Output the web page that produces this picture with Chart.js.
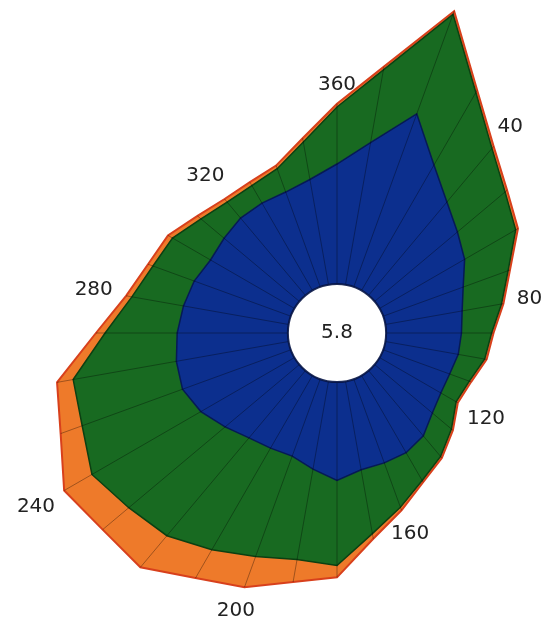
<!DOCTYPE html>
<html><head><meta charset="utf-8">
<script src="https://cdn.jsdelivr.net/npm/chart.js@4.4.1/dist/chart.umd.min.js"></script>
<style>
html,body{margin:0;padding:0;background:#fff;overflow:hidden;width:553px;height:619px}
#wrap{position:absolute;left:0;top:0;width:674px;height:666px}
</style>
</head><body><div id="wrap"><canvas id="c"></canvas></div>
<script>
// Wind directions (degrees, clockwise from north), 10° sectors
const directions = [360,10,20,30,40,50,60,70,80,90,100,110,120,130,140,150,160,170,
                    180,190,200,210,220,230,240,250,260,270,280,290,300,310,320,330,340,350];
// Direction tick labels shown round the rose
const labeledDirections = [360,40,80,120,160,200,240,280,320];
// Frequency (%) per direction for each speed class
const speedClass1 = [1.83,2.20,2.81,2.21,1.86,1.65,1.50,1.30,1.19,1.15,1.13,1.08,1.08,1.15,1.30,1.36,1.36,1.37,
                     1.50,1.36,1.25,1.28,1.34,1.48,1.65,1.76,1.74,1.69,1.63,1.57,1.48,1.50,1.54,1.54,1.54,1.63];
const speedClass2 = [0.87,1.13,1.62,1.28,1.07,0.95,0.90,0.73,0.61,0.46,0.41,0.32,0.27,0.38,0.41,0.49,0.72,0.99,
                     1.30,1.40,1.63,1.79,1.95,1.92,1.92,1.63,1.60,1.10,0.80,0.67,0.67,0.46,0.32,0.31,0.38,0.58];
const speedClass3 = [0.05,0.05,0.05,0.04,0.04,0.04,0.04,0.03,0.03,0.03,0.03,0.03,0.03,0.03,0.03,0.03,0.05,0.08,
                     0.18,0.35,0.50,0.50,0.63,0.52,0.49,0.35,0.25,0.14,0.09,0.08,0.08,0.07,0.06,0.06,0.05,0.06];
const calmPercent = 5.8;

// cumulative rings
const cum1 = speedClass1.slice();
const cum2 = cum1.map((v,i)=>v+speedClass2[i]);
const cum3 = cum2.map((v,i)=>v+speedClass3[i]);

const overlay = {
  id:'overlay',
  afterDatasetsDraw(chart){
    const s = chart.scales.r, ctx = chart.ctx;
    ctx.save();
    ctx.lineWidth = 1;
    ctx.strokeStyle = 'rgba(0,0,0,0.33)';
    directions.forEach((d,i)=>{
      const a = s.getPointPositionForValue(i,0), b = s.getPointPositionForValue(i,cum3[i]);
      ctx.beginPath(); ctx.moveTo(a.x,a.y); ctx.lineTo(b.x,b.y); ctx.stroke();
    });
    const r0 = s.getDistanceFromCenterForValue(0);
    ctx.beginPath(); ctx.arc(s.xCenter,s.yCenter,r0,0,Math.PI*2);
    ctx.fillStyle = '#fff'; ctx.fill();
    ctx.strokeStyle = 'rgba(5,20,70,0.9)'; ctx.lineWidth = 2; ctx.stroke();
    ctx.font = '20px "DejaVu Sans"';
    ctx.fillStyle = '#222'; ctx.textAlign = 'center'; ctx.textBaseline = 'middle';
    ctx.fillText(calmPercent.toFixed(1), s.xCenter, s.yCenter);
    labeledDirections.forEach(d=>{
      const i = directions.indexOf(d);
      const ang = s.getIndexAngle(i);
      const txt = String(d);
      const w = ctx.measureText(txt).width;
      const off = 13 + Math.abs(Math.sin(ang))*w/2 + Math.abs(Math.cos(ang))*6;
      const dist = s.getDistanceFromCenterForValue(cum3[i]) + off;
      ctx.fillText(txt, s.xCenter + dist*Math.sin(ang), s.yCenter - dist*Math.cos(ang));
    });
    ctx.restore();
  }
};

new Chart(document.getElementById('c'), {
  type:'radar',
  data:{
    labels: directions.map(String),
    datasets:[
      {label:'class 1', data:cum1, fill:'origin', backgroundColor:'#0c2f8e', borderColor:'#061a55', borderWidth:1.5, pointRadius:0, tension:0, clip:false},
      {label:'class 2', data:cum2, fill:'origin', backgroundColor:'#186a21', borderColor:'#0c4012', borderWidth:1.5, pointRadius:0, tension:0, clip:false},
      {label:'class 3', data:cum3, fill:'origin', backgroundColor:'#ee7a2a', borderColor:'#d8401c', borderWidth:2, pointRadius:0, tension:0, clip:false}
    ]
  },
  options:{
    responsive:true, maintainAspectRatio:false, animation:false,
    layout:{padding:0},
    plugins:{legend:{display:false}, tooltip:{enabled:false}},
    scales:{r:{
      min:-0.75, max:4.334, startAngle:0,
      ticks:{display:false},
      grid:{display:false, circular:true},
      angleLines:{display:false},
      pointLabels:{display:false}
    }}
  },
  plugins:[overlay]
});
</script>
</body></html>
